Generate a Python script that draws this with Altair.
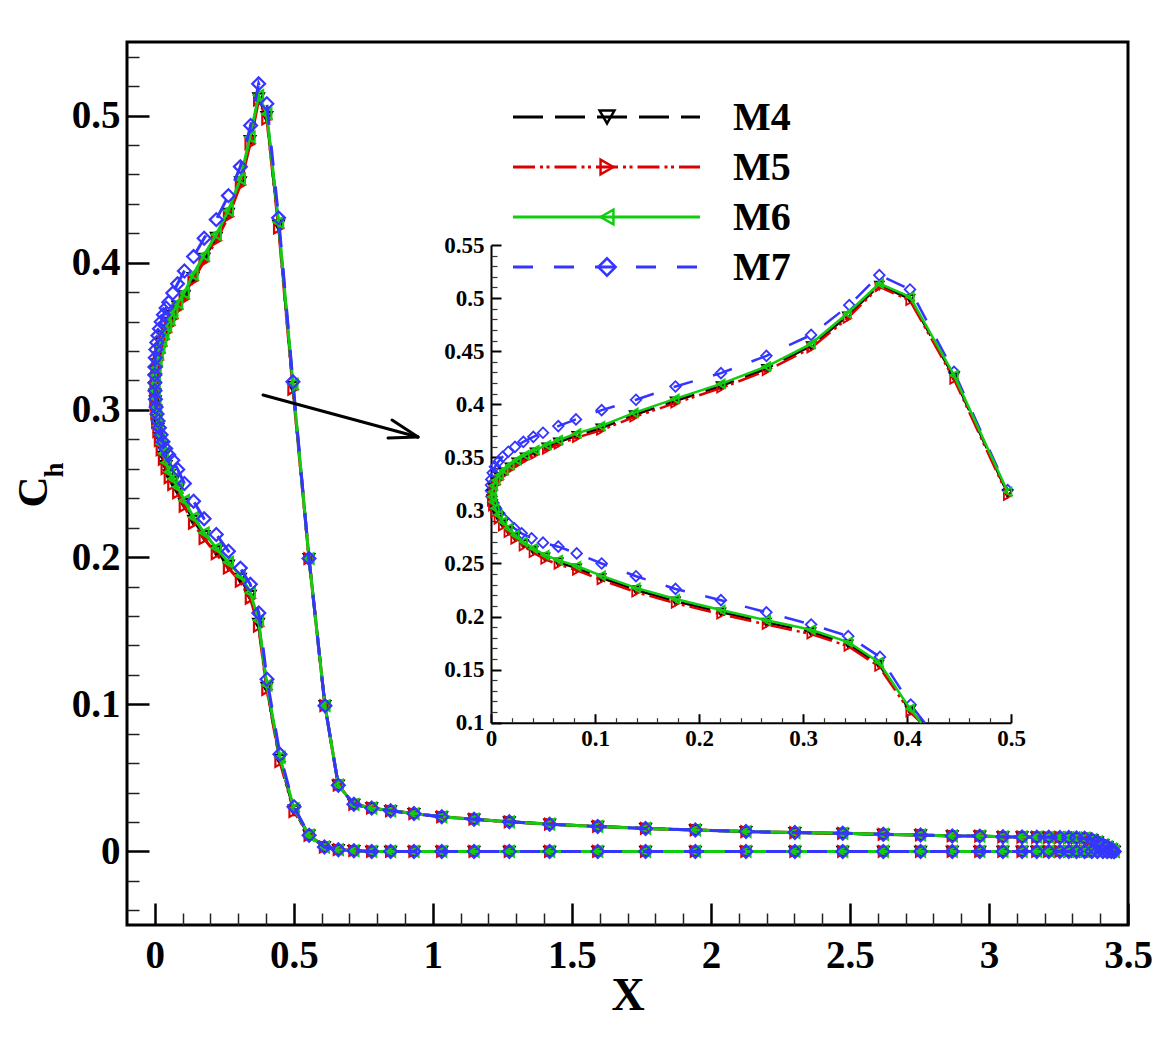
import altair as alt
import pandas as pd

# ---------------- data ----------------
lower_tail_x = [3.45, 3.44, 3.425, 3.41, 3.39, 3.37, 3.344, 3.315, 3.287, 3.255,
                3.215, 3.172, 3.119, 3.050, 2.967, 2.868, 2.754, 2.620, 2.474, 2.302,
                2.126, 1.944, 1.765, 1.593, 1.42, 1.275, 1.148, 1.032, 0.932, 0.848,
                0.780, 0.716, 0.660, 0.610, 0.555]
lower_tail_y = [0.0, 0.0, 0.0, 0.0, 0.0, 0.0, 0.0, 0.0, 0.0, 0.0,
                0.0, 0.0, 0.0, 0.0, 0.0, 0.0, 0.0, 0.0, 0.0, 0.0,
                0.0, 0.0, 0.0, 0.0, 0.0, 0.0, 0.0, 0.0, 0.0, 0.0,
                0.0, 0.0005, 0.0012, 0.003, 0.011]

nose_x = [0.5006, 0.450, 0.403, 0.373, 0.3435, 0.3078, 0.2648, 0.2211, 0.1774, 0.1394,
          0.106, 0.0824, 0.0647, 0.0519, 0.0407, 0.0311, 0.0231, 0.0166, 0.0112, 0.0070,
          0.0038, 0.0017, 0.0006, 0.0010, 0.0022, 0.0048, 0.0080, 0.0125, 0.0182, 0.0247,
          0.0327, 0.0423, 0.0535, 0.0647, 0.0824, 0.1055, 0.1375, 0.1769, 0.2211, 0.2648,
          0.3078, 0.3426, 0.3734, 0.4029, 0.4452, 0.4968]
m6_nose_y = [0.029, 0.064, 0.113, 0.157, 0.176, 0.1875, 0.1965, 0.2062, 0.2165, 0.227,
             0.2385, 0.2476, 0.2532, 0.2579, 0.2642, 0.2704, 0.2768, 0.2831, 0.2893, 0.2956,
             0.3019, 0.3081, 0.3128, 0.3175, 0.3232, 0.3285, 0.3332, 0.3380, 0.3427, 0.3474,
             0.3521, 0.3568, 0.3615, 0.3662, 0.3725, 0.3794, 0.3919, 0.4050, 0.4192, 0.4355,
             0.4569, 0.4855, 0.5137, 0.5011, 0.4274, 0.3175]
m5_nose_y = [0.027, 0.061, 0.110, 0.153, 0.172, 0.1835, 0.1925, 0.2022, 0.2125, 0.2230,
             0.2345, 0.2436, 0.2492, 0.2539, 0.2602, 0.2664, 0.2728, 0.2791, 0.2853, 0.2916,
             0.2979, 0.3041, 0.3088, 0.3135, 0.3192, 0.3245, 0.3292, 0.3340, 0.3387, 0.3434,
             0.3481, 0.3528, 0.3575, 0.3622, 0.3685, 0.3754, 0.3879, 0.4010, 0.4152, 0.4315,
             0.4529, 0.4808, 0.5106, 0.4976, 0.4235, 0.3140]
m4_nose_y = [0.028, 0.0625, 0.1115, 0.155, 0.174, 0.1855, 0.1945, 0.2042, 0.2145, 0.2250,
             0.2365, 0.2456, 0.2512, 0.2559, 0.2622, 0.2684, 0.2748, 0.2811, 0.2873, 0.2936,
             0.2999, 0.3061, 0.3108, 0.3155, 0.3212, 0.3265, 0.3312, 0.3360, 0.3407, 0.3454,
             0.3501, 0.3548, 0.3595, 0.3642, 0.3705, 0.3774, 0.3899, 0.4030, 0.4172, 0.4335,
             0.4549, 0.4830, 0.5120, 0.4993, 0.4255, 0.3158]
m7_nose_x = [0.5006, 0.450, 0.4035, 0.374, 0.3435, 0.3078, 0.2648, 0.2211, 0.1774, 0.1394,
             0.1064, 0.0824, 0.0647, 0.050, 0.039, 0.0295, 0.0224, 0.0166, 0.0118, 0.008,
             0.0048, 0.0022, 0.0005, 0.0, 0.0, 0.0003, 0.0016, 0.0038, 0.0070, 0.0112,
             0.0166, 0.0231, 0.0311, 0.0407, 0.050, 0.0647, 0.0817, 0.1064, 0.1394, 0.1774,
             0.2211, 0.2648, 0.3078, 0.3445, 0.3734, 0.4029, 0.4452, 0.4968]
m7_nose_y = [0.0304, 0.066, 0.117, 0.162, 0.1815, 0.1925, 0.204, 0.2154, 0.226, 0.238,
             0.2500, 0.2595, 0.2658, 0.2696, 0.2737, 0.2784, 0.2831, 0.2878, 0.2925, 0.2972,
             0.3019, 0.3072, 0.313, 0.3185, 0.3238, 0.3292, 0.3354, 0.3411, 0.3458, 0.3505,
             0.3552, 0.3599, 0.3646, 0.3693, 0.3731, 0.3794, 0.3857, 0.3944, 0.4042, 0.4167,
             0.4293, 0.4456, 0.4653, 0.4933, 0.5216, 0.5081, 0.4305, 0.3191]

upper_tail_x = [0.5546, 0.612, 0.660, 0.716, 0.780, 0.848, 0.932, 1.032, 1.148, 1.275,
                1.42, 1.593, 1.765, 1.944, 2.126, 2.302, 2.474, 2.620, 2.754, 2.868,
                2.967, 3.050, 3.119, 3.172, 3.215, 3.255, 3.287, 3.315, 3.344, 3.37,
                3.39, 3.41, 3.425, 3.44, 3.45]
upper_tail_y = [0.199, 0.099, 0.045, 0.032, 0.0295, 0.0276, 0.0257, 0.0235, 0.0219, 0.0201,
                0.0185, 0.0170, 0.0156, 0.0146, 0.0135, 0.0128, 0.0123, 0.0116, 0.0112, 0.0105,
                0.0104, 0.0099, 0.0098, 0.0097, 0.0096, 0.0095, 0.0094, 0.0092, 0.0090, 0.0080,
                0.0065, 0.0045, 0.0030, 0.0015, 0.0]

# visible end of the lower branch where it leaves the inset (at Ch = 0.1)
inset_end_x = {"M4": 0.4145, "M5": 0.4135, "M6": 0.414, "M7": 0.417}
inset_end_y = 0.1

models = ["M4", "M5", "M6", "M7"]

# tick values / labels
x_major = [0, 0.5, 1, 1.5, 2, 2.5, 3, 3.5]
x_minor = [0.1, 0.2, 0.3, 0.4, 0.6, 0.7, 0.8, 0.9, 1.1, 1.2, 1.3, 1.4, 1.6, 1.7, 1.8, 1.9,
           2.1, 2.2, 2.3, 2.4, 2.6, 2.7, 2.8, 2.9, 3.1, 3.2, 3.3, 3.4]
y_major = [0, 0.1, 0.2, 0.3, 0.4, 0.5]
y_minor = [-0.04, -0.02, 0.02, 0.04, 0.06, 0.08, 0.12, 0.14, 0.16, 0.18, 0.22, 0.24, 0.26,
           0.28, 0.32, 0.34, 0.36, 0.38, 0.42, 0.44, 0.46, 0.48, 0.52, 0.54]
ix_major = [0, 0.1, 0.2, 0.3, 0.4, 0.5]
ix_minor = [0.02, 0.04, 0.06, 0.08, 0.12, 0.14, 0.16, 0.18, 0.22, 0.24, 0.26, 0.28,
            0.32, 0.34, 0.36, 0.38, 0.42, 0.44, 0.46, 0.48]
iy_major = [0.1, 0.15, 0.2, 0.25, 0.3, 0.35, 0.4, 0.45, 0.5, 0.55]
iy_minor = [0.11, 0.12, 0.13, 0.14, 0.16, 0.17, 0.18, 0.19, 0.21, 0.22, 0.23, 0.24,
            0.26, 0.27, 0.28, 0.29, 0.31, 0.32, 0.33, 0.34, 0.36, 0.37, 0.38, 0.39,
            0.41, 0.42, 0.43, 0.44, 0.46, 0.47, 0.48, 0.49, 0.51, 0.52, 0.53, 0.54]

# ---------------- assemble tables ----------------
nose = {"M4": (nose_x, m4_nose_y), "M5": (nose_x, m5_nose_y),
        "M6": (nose_x, m6_nose_y), "M7": (m7_nose_x, m7_nose_y)}
for k, (nx, ny) in nose.items():
    if len(nx) != len(ny):
        raise ValueError(f"length mismatch {k}")


def table(xs, ys):
    return pd.DataFrame({"x": xs, "y": ys, "i": list(range(len(xs)))})


main_df = {}
inset_pts = {}
inset_line = {}
for k in models:
    nx, ny = nose[k]
    main_df[k] = table(lower_tail_x + list(nx) + upper_tail_x,
                       lower_tail_y + list(ny) + upper_tail_y)
    d = table(list(nx), list(ny))
    d = d[(d.x <= 0.5) & (d.y >= 0.1)]
    inset_pts[k] = d
    end = pd.DataFrame({"x": [inset_end_x[k]], "y": [inset_end_y], "i": [-1]})
    inset_line[k] = pd.concat([end, d], ignore_index=True)

# ---------------- styling ----------------
FONT = "Liberation Serif"
W, H = 1001, 883
IN_X0, IN_X1 = 364, 884
IN_YB, IN_YT = 680.7, 203

styles = {
    "M4": dict(color="#000000", dash=[30, 12], shape="triangle-down"),
    "M5": dict(color="#dd0000", dash=[22, 5, 3, 3.5, 3, 5], shape="triangle-right"),
    "M6": dict(color="#11cc11", dash=None, shape="triangle-left"),
    "M7": dict(color="#3535ff", dash=[20, 21], shape="diamond"),
}

xs_main = alt.Scale(domain=[-0.1, 3.5], nice=False, zero=False)
ys_main = alt.Scale(domain=[-0.05, 0.55], nice=False, zero=False)
xs_in = alt.Scale(domain=[0, 0.5], range=[IN_X0, IN_X1], nice=False, zero=False)
ys_in = alt.Scale(domain=[0.1, 0.55], range=[IN_YB, IN_YT], nice=False, zero=False)


def line_layer(df, k, sx, sy, width, ax=None, ay=None):
    st = styles[k]
    mk = dict(color=st["color"], strokeWidth=width)
    if st["dash"]:
        mk["strokeDash"] = st["dash"]
    return alt.Chart(df).mark_line(**mk).encode(
        x=alt.X("x:Q", scale=sx, axis=ax),
        y=alt.Y("y:Q", scale=sy, axis=ay),
        order=alt.Order("i:Q"),
    )


def point_layer(df, k, sx, sy, size, sw):
    st = styles[k]
    sz = size * 1.5 if st["shape"] == "diamond" else size
    return alt.Chart(df).mark_point(shape=st["shape"], filled=False, size=sz,
                                    strokeWidth=sw, color=st["color"], opacity=1).encode(
        x=alt.X("x:Q", scale=sx, axis=None),
        y=alt.Y("y:Q", scale=sy, axis=None),
    )


def tick_layer(vals, scale, channel, orient, offset, size, width, color="black"):
    df = pd.DataFrame({"v": vals})
    axis = alt.Axis(orient=orient, offset=offset, values=vals, labels=False, domain=False,
                    grid=False, ticks=True, tickSize=size, tickWidth=width,
                    tickColor=color, title=None)
    enc = alt.X("v:Q", scale=scale, axis=axis) if channel == "x" else alt.Y("v:Q", scale=scale, axis=axis)
    return alt.Chart(df).mark_point(opacity=0).encode(**{channel: enc})


one = alt.Data(values=[{"a": 1}])

# main axes (labels only; ticks drawn by tick layers pointing inward)
ax_main_x = alt.Axis(orient="bottom", values=x_major, format="~g", ticks=False, domain=False,
                     grid=False, labelFont=FONT, labelFontSize=39, labelFontWeight="bold",
                     labelColor="black", labelPadding=11, labelFlush=False, labelOverlap=False,
                     title="X", titleFont=FONT, titleFontSize=46, titleFontWeight="bold",
                     titleColor="black", titlePadding=-2)
ax_main_y = alt.Axis(orient="left", values=y_major, format="~g", ticks=False, domain=False,
                     grid=False, labelFont=FONT, labelFontSize=39, labelFontWeight="bold",
                     labelColor="black", labelPadding=7, labelFlush=False, labelOverlap=False,
                     title=None)

main_layers = []
for j, k in enumerate(models):
    main_layers.append(line_layer(main_df[k], k, xs_main, ys_main, 3,
                                  ax_main_x if j == 0 else None,
                                  ax_main_y if j == 0 else None))
    main_layers.append(point_layer(main_df[k], k, xs_main, ys_main, 110, 2.2))

main_layers += [
    tick_layer(x_major, xs_main, "x", "top", -H, 22, 2.5),
    tick_layer(x_minor, xs_main, "x", "top", -H, 12, 1.5, "#222222"),
    tick_layer(y_major, ys_main, "y", "right", -W, 22, 2.5),
    tick_layer(y_minor, ys_main, "y", "right", -W, 12, 1.5, "#222222"),
]

# y title C_h (with subscript)
main_layers.append(alt.Chart(one).mark_text(text="C", font=FONT, fontSize=43, fontWeight="bold",
                                            angle=270, align="center", baseline="alphabetic",
                                            color="black").encode(x=alt.value(-80), y=alt.value(450)))
main_layers.append(alt.Chart(one).mark_text(text="h", font=FONT, fontSize=27, fontWeight="bold",
                                            angle=270, align="center", baseline="alphabetic",
                                            color="black").encode(x=alt.value(-64), y=alt.value(428)))

# arrow pointing to the inset
arrow_segments = [(136, 353, 291, 395), (265, 378, 291, 395), (261, 396, 291, 395)]
for (xa, ya, xb, yb) in arrow_segments:
    main_layers.append(alt.Chart(one).mark_rule(color="black", strokeWidth=3, strokeCap="round").encode(
        x=alt.value(xa), y=alt.value(ya), x2=alt.value(xb), y2=alt.value(yb)))

# legend
leg_y = {"M4": 75, "M5": 125, "M6": 175, "M7": 225}
for k in models:
    st = styles[k]
    rk = dict(color=st["color"], strokeWidth=3)
    if st["dash"]:
        rk["strokeDash"] = st["dash"]
    main_layers.append(alt.Chart(one).mark_rule(**rk).encode(
        x=alt.value(386), x2=alt.value(573), y=alt.value(leg_y[k])))
    sz = 300 if st["shape"] == "diamond" else 220
    main_layers.append(alt.Chart(one).mark_point(shape=st["shape"], filled=False, size=sz,
                                                 strokeWidth=2.5, color=st["color"], opacity=1).encode(
        x=alt.value(480), y=alt.value(leg_y[k])))
    main_layers.append(alt.Chart(one).mark_text(text=k, font=FONT, fontSize=40, fontWeight="bold",
                                                align="left", baseline="alphabetic",
                                                color="black").encode(
        x=alt.value(606), y=alt.value(leg_y[k] + 13)))

main = alt.layer(*main_layers).resolve_axis(x="independent", y="independent")

# ---------------- inset ----------------
ax_in_x = alt.Axis(orient="bottom", offset=-(H - IN_YB), values=ix_major, format="~g",
                   ticks=False, domain=True, domainColor="black", domainWidth=2, grid=False,
                   labelFont=FONT, labelFontSize=23, labelFontWeight="bold", labelColor="black",
                   labelPadding=5, labelFlush=False, labelOverlap=False, title=None)
ax_in_y = alt.Axis(orient="left", offset=-IN_X0, values=iy_major, format="~g",
                   ticks=False, domain=True, domainColor="black", domainWidth=2, grid=False,
                   labelFont=FONT, labelFontSize=23, labelFontWeight="bold", labelColor="black",
                   labelPadding=7, labelFlush=False, labelOverlap=False, title=None)

inset_layers = []
for j, k in enumerate(["M7", "M4", "M5", "M6"]):
    inset_layers.append(line_layer(inset_line[k], k, xs_in, ys_in, 2.5,
                                   ax_in_x if j == 0 else None,
                                   ax_in_y if j == 0 else None))
    inset_layers.append(point_layer(inset_pts[k], k, xs_in, ys_in, 75, 1.8))

inset_layers += [
    tick_layer(ix_major, xs_in, "x", "top", -IN_YB, 9, 2),
    tick_layer(ix_minor, xs_in, "x", "top", -IN_YB, 5, 1.2, "#333333"),
    tick_layer(iy_major, ys_in, "y", "right", -(W - IN_X0), 10, 2),
    tick_layer(iy_minor, ys_in, "y", "right", -(W - IN_X0), 6, 1.2, "#333333"),
]
inset = alt.layer(*inset_layers).resolve_axis(x="independent", y="independent")

chart = (
    alt.layer(main, inset)
    .resolve_scale(x="independent", y="independent")
    .properties(width=W, height=H,
                autosize=alt.AutoSizeParams(type="none"),
                padding={"left": 119, "top": 34, "right": 35, "bottom": 105},
                background="white")
    .configure_view(stroke="black", strokeWidth=3)
)

chart.save("out.html", embed_options={"renderer": "svg", "actions": False})
